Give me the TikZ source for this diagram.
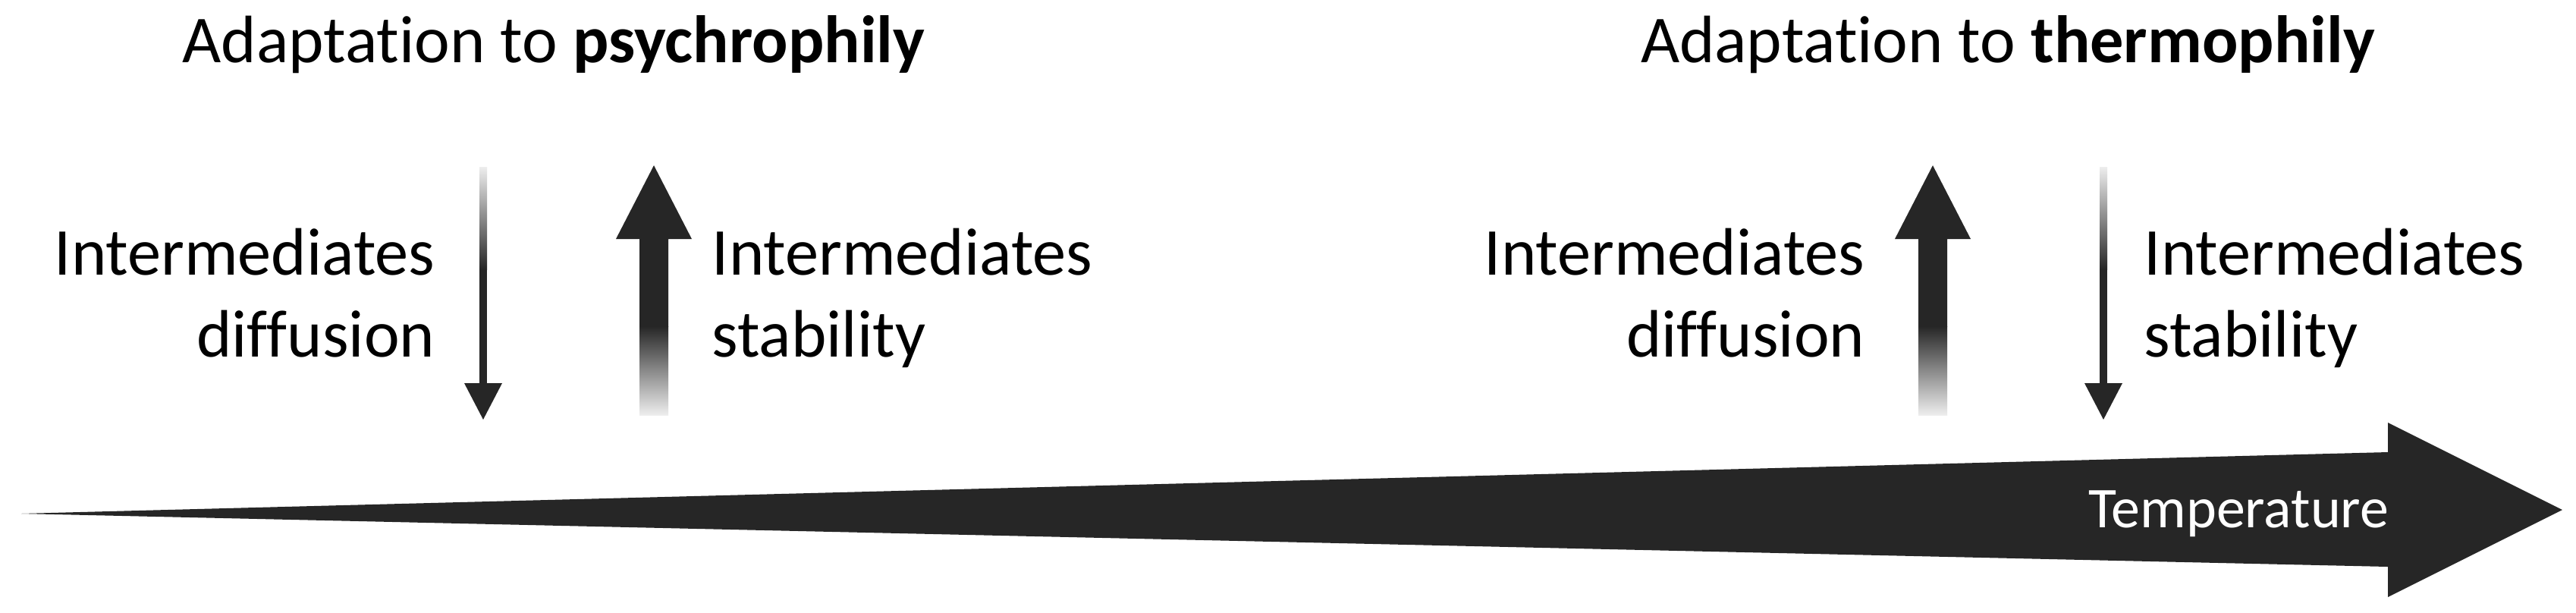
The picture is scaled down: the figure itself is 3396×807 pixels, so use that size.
\documentclass[tikz,border=0pt]{standalone}
\usepackage{fontspec}
\setmainfont{Carlito}[Ligatures=NoCommon]
\definecolor{dk}{HTML}{262626}
\begin{document}
\begin{tikzpicture}[x=0.25pt,y=-0.25pt,
  lbl/.style={font=\fontsize{22.1pt}{27pt}\selectfont, inner sep=0pt, text=black},
  ttl/.style={lbl, anchor=base},
  temp/.style={font=\fontsize{19pt}{23pt}\selectfont, inner sep=0pt, text=white, anchor=base east}]
\useasboundingbox (0,0) rectangle (3396,807);
\fill[white] (0,0) rectangle (3396,807);

% big temperature arrow
\fill[dk] (28,677) -- (3148,596) -- (3148,557) -- (3378,672) -- (3148,787) -- (3148,747) -- cycle;
\node[temp] (temp) at (3150,695) {Temperature};

% titles
\node[ttl] (t1) at (730,82) {Adaptation to \textbf{psychrophily}};
\node[ttl] (t2) at (2647,82) {Adaptation to \textbf{thermophily}};

% labels (base anchor = baseline of the last line)
\node[lbl, align=right, anchor=base east] (l1) at (574,470) {Intermediates\\diffusion};
\node[lbl, align=left, anchor=base west] (l2) at (938,470) {Intermediates\\stability};
\node[lbl, align=right, anchor=base east] (r1) at (2459,470) {Intermediates\\diffusion};
\node[lbl, align=left, anchor=base west] (r2) at (2826,470) {Intermediates\\stability};

% thin down arrows (fading at the top)
\foreach \cx/\nm in {637/ld, 2773/rd}{
  \shade[top color=dk!8, bottom color=dk] (\cx-5,220) rectangle (\cx+5,355);
  \fill[dk] (\cx-5,354) rectangle (\cx+5,507);
  \fill[dk] (\cx-25,505) -- (\cx+25,505) -- (\cx,553) -- cycle;
}
% thick up arrows (fading at the bottom)
\foreach \cx/\nm in {862/lu, 2548/ru}{
  \fill[dk] (\cx,218) -- (\cx+50,315) -- (\cx+19,315) -- (\cx+19,431) -- (\cx-19,431) -- (\cx-19,315) -- (\cx-50,315) -- cycle;
  \shade[top color=dk, bottom color=dk!8] (\cx-19,430) rectangle (\cx+19,547);
}
\end{tikzpicture}
\end{document}
